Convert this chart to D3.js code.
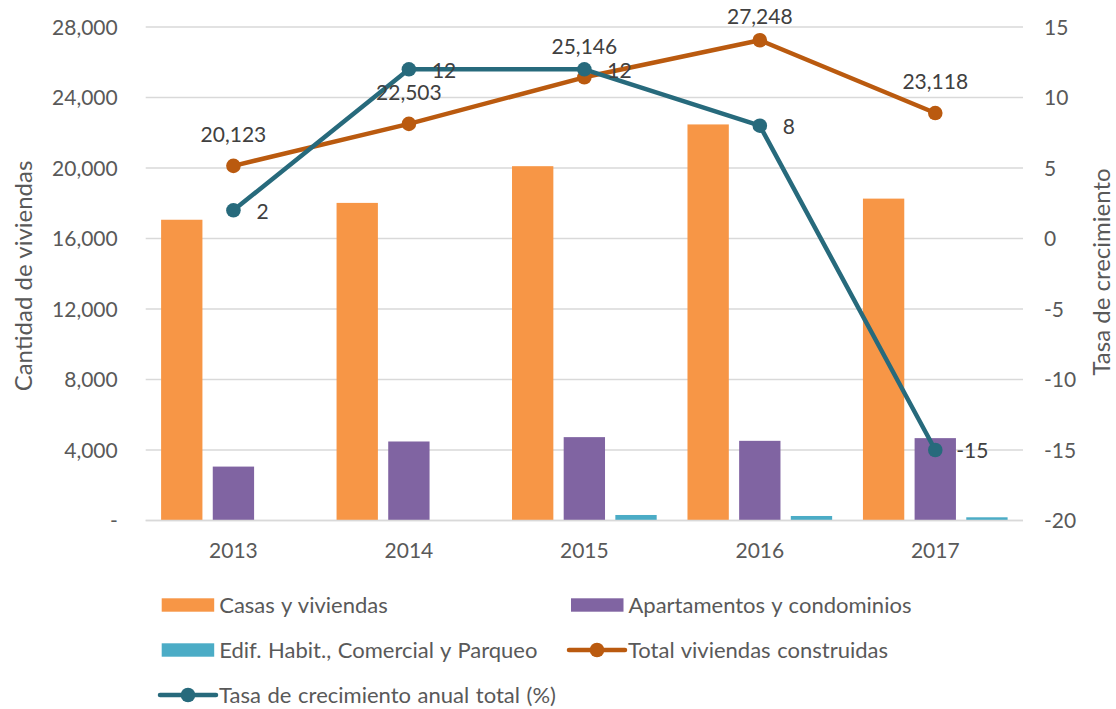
<!DOCTYPE html>
<html><head><meta charset="utf-8">
<script src="https://cdn.jsdelivr.net/npm/d3@7"></script>
<style>
html,body{margin:0;padding:0;background:#fff;}
svg{display:block;font-family:Lato,"Open Sans",sans-serif;}
</style></head>
<body><svg id="c" width="1116" height="709"></svg>
<script>
const years = ["2013","2014","2015","2016","2017"];
const casas = [17064, 18020, 20103, 22472, 18263];
const apartamentos = [3059, 4483, 4730, 4520, 4673];
const edificios = [0, 0, 313, 256, 182];
const totalViviendas = [20123, 22503, 25146, 27248, 23118];
const tasaCrecimiento = [2, 12, 12, 8, -15];
const leftTicks = [0, 4000, 8000, 12000, 16000, 20000, 24000, 28000];
const rightTicks = [-20, -15, -10, -5, 0, 5, 10, 15];
const barSeries = [
  {name:"Casas y viviendas", values:casas, color:"#F79646"},
  {name:"Apartamentos y condominios", values:apartamentos, color:"#8064A2"},
  {name:"Edif. Habit., Comercial y Parqueo", values:edificios, color:"#4BACC6"}
];
const totalColor = "#BA5A0F", tasaColor = "#276A7C";
const textColor = "#595959", labelColor = "#404040";
const FS = 21;

const svg = d3.select("#c");
const m = {l:145.7, r:1023, t:27, b:520.5};
const x = d3.scaleBand().domain(years).range([m.l, m.r]).paddingInner(0).paddingOuter(0);
const yL = d3.scaleLinear().domain([0, 28000]).range([m.b, m.t]);
const yR = d3.scaleLinear().domain([-20, 15]).range([m.b, m.t]);
const xs = d3.scaleBand().domain([0,1,2]).range([15.4, x.bandwidth()-15.4]).paddingInner(0.2).paddingOuter(0);

// gridlines
svg.append("g").selectAll("line").data(leftTicks).join("line")
  .attr("x1", m.l).attr("x2", m.r)
  .attr("y1", d=>yL(d)).attr("y2", d=>yL(d))
  .attr("stroke", "#D9D9D9").attr("stroke-width", 1.5);

// left axis
const fmt = d3.format(",");
const gl = svg.append("g").attr("transform", `translate(${m.l-28},0)`)
  .call(d3.axisLeft(yL).tickValues(leftTicks).tickSize(0).tickPadding(0).tickFormat(d=> d===0 ? "-" : fmt(d)));
gl.select(".domain").remove();
gl.selectAll("text").attr("fill", textColor).attr("font-size", FS).attr("font-family","Lato").attr("dy","0.35em");

// right axis
const gr = svg.append("g").attr("transform", `translate(${m.r+21},0)`)
  .call(d3.axisRight(yR).tickValues(rightTicks).tickSize(0).tickPadding(0));
gr.select(".domain").remove();
gr.selectAll("text").attr("fill", textColor).attr("font-size", FS).attr("font-family","Lato").attr("dy","0.35em")
  .text(d=> d<0 ? "-" + Math.abs(d) : d);

// x axis
const gx = svg.append("g").attr("transform", `translate(0,${m.b+30})`)
  .call(d3.axisBottom(x).tickSize(0).tickPadding(0));
gx.select(".domain").remove();
gx.selectAll("text").attr("fill", textColor).attr("font-size", FS).attr("font-family","Lato").attr("dy","0.35em");

// bars
barSeries.forEach((s, si) => {
  svg.append("g").selectAll("rect").data(s.values).join("rect")
    .attr("x", (d,i)=> x(years[i]) + xs(si))
    .attr("width", xs.bandwidth())
    .attr("y", d=> yL(d))
    .attr("height", d=> yL(0) - yL(d))
    .attr("fill", s.color);
});
// baseline
svg.append("line").attr("x1", m.l).attr("x2", m.r).attr("y1", yL(0)).attr("y2", yL(0))
  .attr("stroke", "#D9D9D9").attr("stroke-width", 1.5);

const cx = i => x(years[i]) + x.bandwidth()/2;

// total line
svg.append("path").datum(totalViviendas)
  .attr("d", d3.line().x((d,i)=>cx(i)).y(d=>yL(d)))
  .attr("fill","none").attr("stroke", totalColor).attr("stroke-width", 4.5).attr("stroke-linejoin","round");
svg.append("g").selectAll("circle").data(totalViviendas).join("circle")
  .attr("cx",(d,i)=>cx(i)).attr("cy", d=>yL(d)).attr("r", 7.3).attr("fill", totalColor);

// tasa line
svg.append("path").datum(tasaCrecimiento)
  .attr("d", d3.line().x((d,i)=>cx(i)).y(d=>yR(d)))
  .attr("fill","none").attr("stroke", tasaColor).attr("stroke-width", 4.5).attr("stroke-linejoin","round");
svg.append("g").selectAll("circle").data(tasaCrecimiento).join("circle")
  .attr("cx",(d,i)=>cx(i)).attr("cy", d=>yR(d)).attr("r", 7.3).attr("fill", tasaColor);

// labels
svg.append("g").selectAll("text").data(totalViviendas).join("text")
  .attr("x",(d,i)=>cx(i)).attr("y", d=>Math.max(yL(d)-31, 17))
  .attr("text-anchor","middle").attr("dy","0.35em")
  .attr("font-size", FS).attr("fill", labelColor).text(d=>fmt(d));
svg.append("g").selectAll("text").data(tasaCrecimiento).join("text")
  .attr("x",(d,i)=>cx(i)+ (d<0 ? 21 : 23)).attr("y", d=>yR(d)+1)
  .attr("text-anchor","start").attr("dy","0.35em")
  .attr("font-size", FS).attr("fill", labelColor).text(d=> d<0 ? "-" + Math.abs(d) : d);

// axis titles
svg.append("text").attr("transform", `translate(24,276) rotate(-90)`)
  .attr("text-anchor","middle").attr("dy","0.35em").attr("font-size", 24).attr("fill", textColor)
  .text("Cantidad de viviendas");
svg.append("text").attr("transform", `translate(1102,272) rotate(-90)`)
  .attr("text-anchor","middle").attr("dy","0.35em").attr("font-size", 24).attr("fill", textColor)
  .text("Tasa de crecimiento");

// legend
const legendItems = [
  {name: barSeries[0].name, type:"rect", color: barSeries[0].color, x:161.7, y:605},
  {name: barSeries[1].name, type:"rect", color: barSeries[1].color, x:571, y:605},
  {name: barSeries[2].name, type:"rect", color: barSeries[2].color, x:161.7, y:650},
  {name: "Total viviendas construidas", type:"line", color: totalColor, x:569, y:650},
  {name: "Tasa de crecimiento anual total (%)", type:"line", color: tasaColor, x:160, y:695}
];
const lg = svg.append("g");
legendItems.forEach(it => {
  if (it.type === "rect") {
    lg.append("rect").attr("x", it.x).attr("y", it.y-6.7).attr("width", 52.5).attr("height", 13.4).attr("fill", it.color);
  } else {
    lg.append("line").attr("x1", it.x).attr("x2", it.x+56).attr("y1", it.y).attr("y2", it.y)
      .attr("stroke", it.color).attr("stroke-width", 4.5).attr("stroke-linecap","round");
    lg.append("circle").attr("cx", it.x+28).attr("cy", it.y).attr("r", 7.3).attr("fill", it.color);
  }
  lg.append("text").attr("x", it.type==="rect" ? it.x+57.5 : it.x+59).attr("y", it.y).attr("dy","0.35em")
    .attr("font-size", 22).attr("word-spacing", 1).attr("fill", textColor).text(it.name);
});
</script></body></html>
